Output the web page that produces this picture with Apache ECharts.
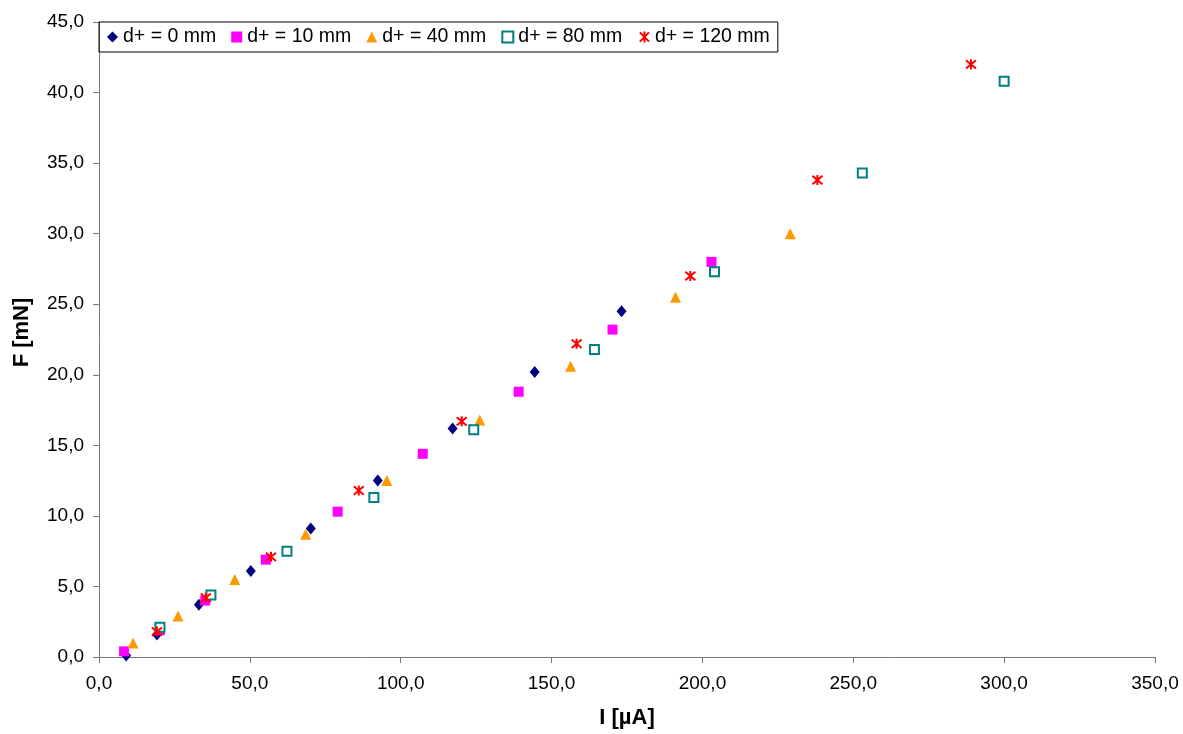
<!DOCTYPE html>
<html><head><meta charset="utf-8">
<script src="https://cdn.jsdelivr.net/npm/echarts@6/dist/echarts.min.js"></script>
<style>html,body{margin:0;padding:0;background:#fff}#c{width:1183px;height:734px}</style>
</head><body><div id="c"></div>
<script>
const seriesNames = ['d+ = 0 mm','d+ = 10 mm','d+ = 40 mm','d+ = 80 mm','d+ = 120 mm'];
const d0   = [[9,0.1],[19.2,1.6],[33.1,3.7],[50.3,6.1],[70.2,9.1],[92.4,12.5],[117.2,16.2],[144.4,20.2],[173.2,24.5]];
const d10  = [[8.3,0.4],[20.2,1.9],[35.2,4.0],[55.3,6.9],[79.1,10.3],[107.3,14.4],[139.1,18.8],[170.2,23.2],[203,28.0]];
const d40  = [[11.3,1.0],[26.2,2.9],[45.0,5.5],[68.5,8.7],[95.4,12.5],[126.2,16.8],[156.3,20.6],[191.1,25.5],[229.1,30.0]];
const d80  = [[20.2,2.1],[37.1,4.4],[62.3,7.5],[91.1,11.3],[124.2,16.1],[164.2,21.8],[204,27.3],[253,34.3],[300,40.8]];
const d120 = [[19.2,1.8],[35.4,4.2],[57,7.1],[86.1,11.8],[120.2,16.7],[158.3,22.2],[196,27.0],[238.1,33.8],[289,42.0]];
const fmt = v => v.toFixed(1).replace('.', ',');
const star = 'path://M0,0L10,10M10,0L0,10M5,-1L5,11';
const chart = echarts.init(document.getElementById('c'));
const font = 'Liberation Sans, Arial, sans-serif';
chart.setOption({
  animation:false,
  textStyle:{fontFamily:font},
  grid:{left:99,right:28,top:22,bottom:77},
  legend:{
    left:99, top:22, orient:'horizontal',
    borderColor:'#000', borderWidth:1, padding:[5,8,5,8], itemGap:15,
    itemWidth:11, itemHeight:11,
    textStyle:{fontSize:19.5,color:'#000',fontFamily:font},
    data:seriesNames.map(n=>({name:n}))
  },
  xAxis:{
    type:'value', min:0, max:350, interval:50,
    name:'I [µA]', nameLocation:'middle', nameGap:50,
    nameTextStyle:{fontSize:22,fontWeight:'bold',color:'#000'},
    axisLine:{lineStyle:{color:'#777',width:1}},
    axisTick:{show:true,length:6,lineStyle:{color:'#777'}},
    splitLine:{show:false},
    axisLabel:{formatter:fmt,fontSize:19,color:'#000',margin:17}
  },
  yAxis:{
    type:'value', min:0, max:45, interval:5,
    name:'F [mN]', nameLocation:'middle', nameGap:66,
    nameTextStyle:{fontSize:22,fontWeight:'bold',color:'#000',padding:[0,0,0,14]},
    axisLine:{show:true,lineStyle:{color:'#777',width:1}},
    axisTick:{show:true,length:6,lineStyle:{color:'#777'}},
    splitLine:{show:false},
    axisLabel:{formatter:fmt,fontSize:19,color:'#000',margin:15}
  },
  series:[
    {name:seriesNames[0],type:'scatter',data:d0,symbol:'diamond',symbolSize:[10,12],itemStyle:{color:'#000080',opacity:1}},
    {name:seriesNames[1],type:'scatter',data:d10,symbol:'rect',symbolSize:10,itemStyle:{color:'#FF00FF',opacity:1}},
    {name:seriesNames[2],type:'scatter',data:d40,symbol:'triangle',symbolSize:[11,11],itemStyle:{color:'#FF9900',opacity:1}},
    {name:seriesNames[3],type:'scatter',data:d80,symbol:'rect',symbolSize:9,itemStyle:{color:'#fff',borderColor:'#008080',borderWidth:2,opacity:1}},
    {name:seriesNames[4],type:'scatter',data:d120,symbol:star,symbolSize:10,itemStyle:{color:'none',borderColor:'#FF0000',borderWidth:2,opacity:1}}
  ]
});
</script></body></html>
